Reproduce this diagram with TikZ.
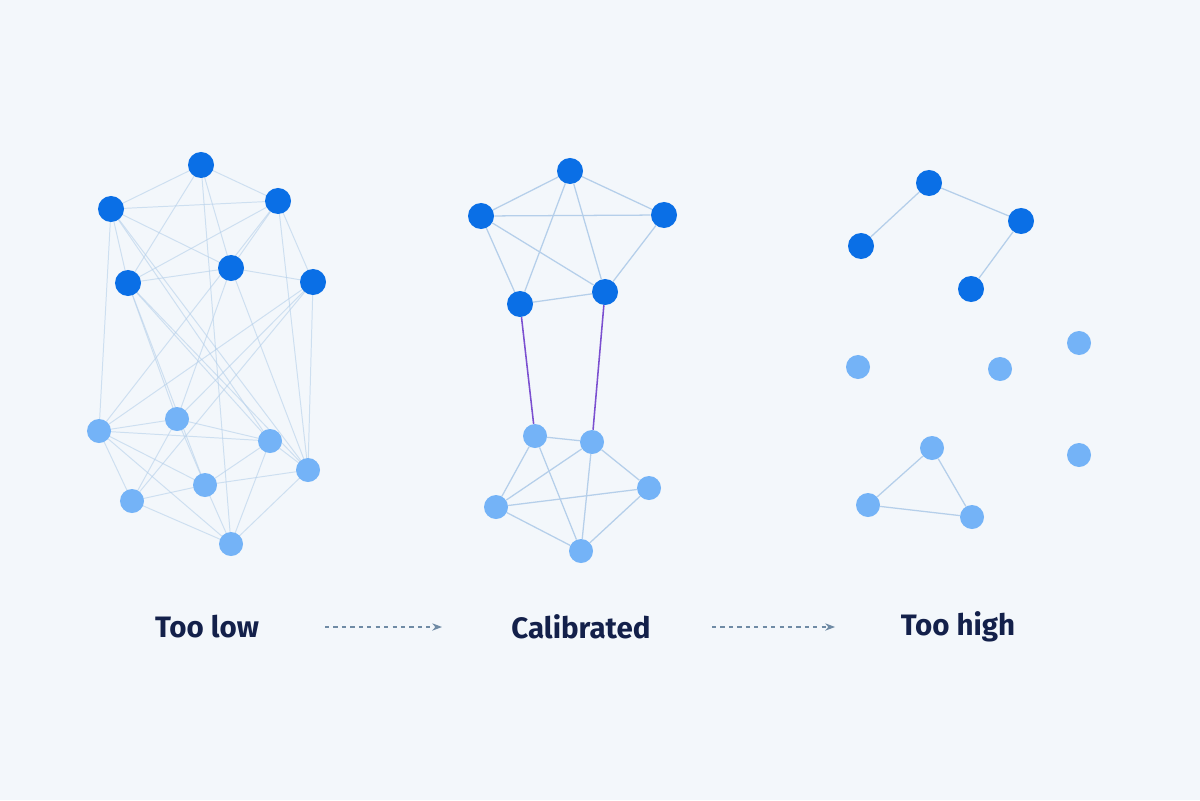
\documentclass[tikz,border=0pt]{standalone}
\usepackage{fontspec}
\setmainfont{Fira Sans}
\usetikzlibrary{arrows.meta}
\definecolor{bgcol}{HTML}{F3F7FB}
\definecolor{hub}{HTML}{0A6FE6}
\definecolor{leaf}{HTML}{74B3F7}
\definecolor{edgecol}{HTML}{B5CFEA}
\definecolor{bridge}{HTML}{7B4FD0}
\definecolor{ink}{HTML}{13204A}
\definecolor{arrowcol}{HTML}{6F8BA5}
\begin{document}
\begin{tikzpicture}[x=0.025cm,y=-0.025cm,
   top/.style={circle,fill=hub,inner sep=0pt,minimum size=0.65cm},
   low/.style={circle,fill=leaf,inner sep=0pt,minimum size=0.6cm},
   link/.style={draw=edgecol,line width=0.9pt},
   faint/.style={draw=edgecol,line width=0.7pt,opacity=0.6},
   cross/.style={draw=bridge,line width=1.1pt},
   caption/.style={font=\fontsize{21}{24}\selectfont\bfseries,text=ink},
   flow/.style={-{Stealth[length=7pt]},dashed,arrowcol,line width=0.8pt}]
\fill[bgcol] (0,0) rectangle (1200,800);
% too low
\foreach \n/\x/\y in {la/201/165,lb/111/209,lc/278/201,ld/128/283,le/231/268,lf/313/282}
  \coordinate (\n) at (\x,\y);
\foreach \n/\x/\y in {lg/99/431,lh/177/419,li/270/441,lj/308/470,lk/205/485,ll/132/501,lm/231/544}
  \coordinate (\n) at (\x,\y);
\foreach \a/\b in {la/lb,la/lc,la/ld,la/le,la/lm,lb/lc,lb/le,lb/ld,lb/lg,lb/li,lc/ld,lc/le,lc/lf,
  lc/lg,lc/lj,ld/le,ld/li,ld/lh,ld/lk,le/lf,le/lh,le/lj,lf/lg,lf/lj,lf/lh,lf/ll,lg/lh,lg/li,
  lg/lk,lg/ll,lh/li,lh/ll,lh/lk,li/lk,li/lj,li/lm,lk/lj,lk/ll,ll/lm,lj/lm,lk/lm,lb/lj,lg/lm,ld/lj}
  \path[faint] (\a) -- (\b);
\foreach \n in {la,lb,lc,ld,le,lf} \node[top] (n\n) at (\n) {};
\foreach \n in {lg,lh,li,lj,lk,ll,lm} \node[low] (n\n) at (\n) {};
% calibrated
\node[top] (pa) at (570,171) {};
\node[top] (pb) at (481,216) {};
\node[top] (pc) at (664,215) {};
\node[top] (pd) at (520,304) {};
\node[top] (pe) at (605,292) {};
\node[low] (qa) at (535,436) {};
\node[low] (qb) at (592,442) {};
\node[low] (qc) at (496,507) {};
\node[low] (qd) at (649,488) {};
\node[low] (qe) at (581,551) {};
\foreach \a/\b in {pa/pb,pa/pc,pa/pd,pa/pe,pb/pc,pb/pd,pb/pe,pc/pe,pd/pe,
  qa/qb,qa/qc,qa/qe,qb/qc,qb/qe,qb/qd,qc/qd,qc/qe,qd/qe}
  \path[link] (\a) -- (\b);
\path[cross] (pd) -- (qa);
\path[cross] (pe) -- (qb);
% too high
\node[top] (ra) at (929,183) {};
\node[top] (rb) at (861,246) {};
\node[top] (rc) at (1021,221) {};
\node[top] (rd) at (971,289) {};
\node[low] (sa) at (858,367) {};
\node[low] (sb) at (1000,369) {};
\node[low] (sc) at (1079,343) {};
\node[low] (sd) at (1079,455) {};
\node[low] (ta) at (932,448) {};
\node[low] (tb) at (868,505) {};
\node[low] (tc) at (972,517) {};
\foreach \a/\b in {ra/rb,ra/rc,rc/rd,ta/tb,tb/tc,ta/tc}
  \path[link] (\a) -- (\b);
% captions
\node[caption] (low) at (207,627) {Too low};
\node[caption] (mid) at (581,627) {Calibrated};
\node[caption] (high) at (958,627) {Too high};
\coordinate (s1) at (325,627);
\coordinate (e1) at (442,627);
\coordinate (s2) at (712,627);
\coordinate (e2) at (835,627);
\draw[flow] (s1) -- (e1);
\draw[flow] (s2) -- (e2);
\end{tikzpicture}
\end{document}
